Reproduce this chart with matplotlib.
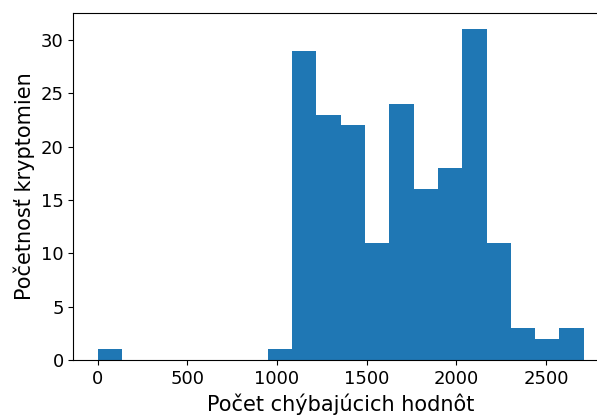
import numpy as np
import matplotlib
matplotlib.use("Agg")
import matplotlib.pyplot as plt

# Histogram of missing-value counts per cryptocurrency (20 equal bins)
range_min = 0
range_max = 2710
n_bins = 20
counts = [1, 0, 0, 0, 0, 0, 0, 1, 29, 23, 22, 11, 24, 16, 18, 31, 11, 3, 2, 3]

edges = np.linspace(range_min, range_max, n_bins + 1)
centers = (edges[:-1] + edges[1:]) / 2

W, H = 597, 415
fig = plt.figure(figsize=(W / 100, H / 100), dpi=100)
# axes run slightly past the right edge of the canvas
left, right, top, bottom = 73.4, 608.0, 12.7, 360.0
ax = fig.add_axes([left / W, 1 - bottom / H, (right - left) / W, (bottom - top) / H])
ax.hist(centers, bins=edges, weights=counts, color="#1f77b4")

ax.set_xlabel("Počet chýbajúcich hodnôt", fontsize=15)
ax.set_ylabel("Početnosť kryptomien", fontsize=15)
ax.tick_params(labelsize=13)
ax.set_xticks([0, 500, 1000, 1500, 2000, 2500])

fig.savefig("out.png", dpi=100)
